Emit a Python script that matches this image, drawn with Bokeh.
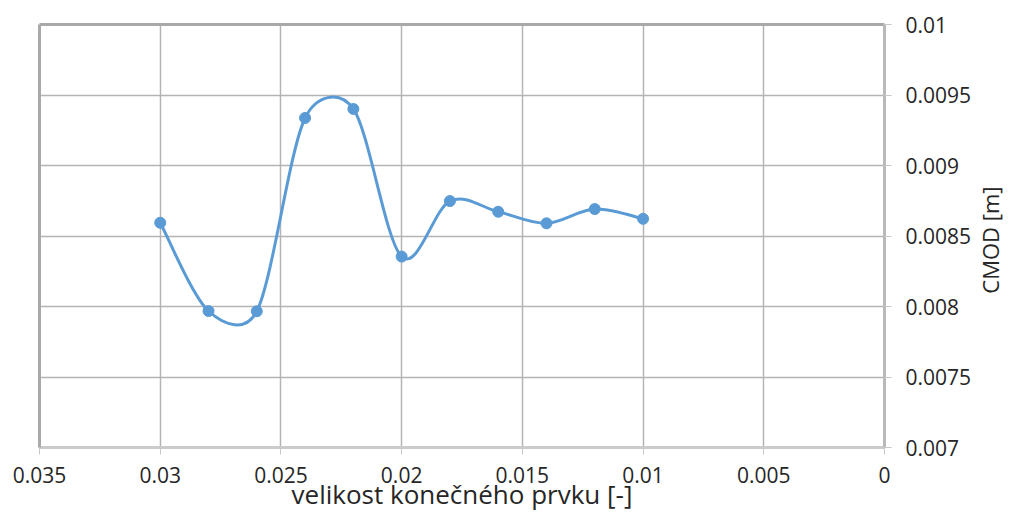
import math
from bokeh.plotting import figure
from bokeh.layouts import row
from bokeh.models import Range1d, FixedTicker, LinearAxis, CustomJSTickFormatter, ColumnDataSource
from bokeh.embed import file_html
from bokeh.resources import INLINE

# ---- data ----
element_size = [0.03, 0.028, 0.026, 0.024, 0.022, 0.02, 0.018, 0.016, 0.014, 0.012, 0.01]
cmod = [0.008594, 0.007968, 0.007966, 0.009337, 0.009401, 0.008354,
        0.008748, 0.008672, 0.008590, 0.008691, 0.008622]
x_ticks = [0.0, 0.005, 0.01, 0.015, 0.02, 0.025, 0.03, 0.035]
x_tick_labels = ["0", "0.005", "0.01", "0.015", "0.02", "0.025", "0.03", "0.035"]
y_ticks = [0.007, 0.0075, 0.008, 0.0085, 0.009, 0.0095, 0.01]
y_tick_labels = ["0.007", "0.0075", "0.008", "0.0085", "0.009", "0.0095", "0.01"]
x_title = "velikost konečného prvku [-]"
y_title = "CMOD [m]"

X0, X1 = 0.035, 0.0
Y0, Y1 = 0.007, 0.01

FONT = "Open Sans"
TXT = "#262626"
BLUE = "#5b9bd5"

W_TOTAL, H = 1004, 514
W2 = 30                     # strip holding the vertical axis title
W = W_TOTAL - W2
ML, MT, MB = 39, 24, 66
FRAME_R = 886
MR = W - FRAME_R
FW, FH = W - ML - MR, H - MT - MB

p = figure(width=W, height=H, output_backend="svg", toolbar_location=None,
           x_range=Range1d(X0, X1), y_range=Range1d(Y0, Y1),
           x_axis_location="below", y_axis_location="right",
           min_border_left=ML, min_border_top=MT, min_border_right=MR, min_border_bottom=MB)
p.outline_line_color = None
p.background_fill_color = "white"
p.border_fill_color = "white"


def fmt(ticks, labels):
    return CustomJSTickFormatter(args=dict(t=ticks, l=labels), code="""
        for (let i = 0; i < t.length; i++) { if (Math.abs(t[i] - tick) < 1e-9) return l[i]; }
        return "";
    """)


xa = p.xaxis[0]
ya = p.yaxis[0]
xa.ticker = FixedTicker(ticks=x_ticks)
xa.formatter = fmt(x_ticks, x_tick_labels)
ya.ticker = FixedTicker(ticks=y_ticks)
ya.formatter = fmt(y_ticks, y_tick_labels)
p.xgrid.ticker = FixedTicker(ticks=x_ticks)
p.ygrid.ticker = FixedTicker(ticks=y_ticks)

for ax in (xa, ya):
    ax.major_tick_out = 7
    ax.major_tick_in = 0
    ax.minor_tick_line_color = None
    ax.major_tick_line_color = "#c8c8c8"
    ax.major_tick_line_width = 1
    ax.major_label_text_font = FONT
    ax.major_label_text_font_size = "21px"
    ax.major_label_text_color = TXT
    ax.axis_label_text_font = FONT
    ax.axis_label_text_font_style = "normal"
    ax.axis_label_text_color = TXT

xa.axis_line_color = "#cbcbcb"
xa.axis_line_width = 3
xa.major_label_standoff = 12
xa.axis_label = x_title
xa.axis_label_text_font_size = "26px"
xa.axis_label_standoff = -10

ya.axis_line_color = "#b9b9b9"
ya.axis_line_width = 3
ya.major_label_standoff = 14

# left and top frame borders
for side in ("left", "above"):
    b = LinearAxis(ticker=FixedTicker(ticks=[]), axis_line_color="#a9a9a9", axis_line_width=3,
                   major_tick_line_color=None, minor_tick_line_color=None,
                   major_label_text_font_size="0px")
    p.add_layout(b, side)

for g in (p.xgrid[0], p.ygrid[0]):
    g.grid_line_color = "#b4b4b4"
    g.grid_line_width = 1.5

# ---- Excel-like smoothed line (Bezier through the points) ----
sx = FW / abs(X1 - X0)
sy = FH / abs(Y1 - Y0)
pts = [(x * sx, y * sy) for x, y in zip(element_size, cmod)]


def dist(a, b):
    return math.hypot(a[0] - b[0], a[1] - b[1])


seg = dict(x0=[], y0=[], x1=[], y1=[], cx0=[], cy0=[], cx1=[], cy1=[])
n = len(pts)
for i in range(n - 1):
    p0 = pts[i - 1] if i > 0 else pts[i]
    p1 = pts[i]
    p2 = pts[i + 1]
    p3 = pts[i + 2] if i + 2 < n else pts[i + 1]
    d12 = dist(p1, p2)
    d02 = dist(p0, p2)
    d13 = dist(p1, p3)
    f = 1 / 6
    g = 1 / 6
    if d02 > 0 and d02 / 6 > d12 / 2:
        f = d12 / 2 / d02
    if d13 > 0 and d13 / 6 > d12 / 2:
        g = d12 / 2 / d13
    c1 = (p1[0] + f * (p2[0] - p0[0]), p1[1] + f * (p2[1] - p0[1]))
    c2 = (p2[0] - g * (p3[0] - p1[0]), p2[1] - g * (p3[1] - p1[1]))
    seg["x0"].append(p1[0] / sx); seg["y0"].append(p1[1] / sy)
    seg["x1"].append(p2[0] / sx); seg["y1"].append(p2[1] / sy)
    seg["cx0"].append(c1[0] / sx); seg["cy0"].append(c1[1] / sy)
    seg["cx1"].append(c2[0] / sx); seg["cy1"].append(c2[1] / sy)

p.bezier(x0="x0", y0="y0", x1="x1", y1="y1", cx0="cx0", cy0="cy0", cx1="cx1", cy1="cy1",
         source=ColumnDataSource(seg), line_color=BLUE, line_width=3)
p.scatter(element_size, cmod, size=11, marker="circle", fill_color=BLUE, line_color=BLUE)

# ---- strip with the vertical axis title (reads bottom to top) ----
Y_TITLE_CENTER_PX = 262
q = figure(width=W2, height=H, output_backend="svg", toolbar_location=None,
           x_range=Range1d(0, 1), y_range=Range1d(0, H), min_border=0)
q.axis.visible = False
q.grid.visible = False
q.outline_line_color = None
q.background_fill_color = "white"
q.border_fill_color = "white"
q.text(x=[0.5], y=[H - Y_TITLE_CENTER_PX], text=[y_title], angle=math.pi / 2,
       text_align="center", text_baseline="middle", text_font={"value": FONT},
       text_font_size="22px", text_color=TXT)

open("out.html", "w").write(file_html(row(p, q), INLINE))
